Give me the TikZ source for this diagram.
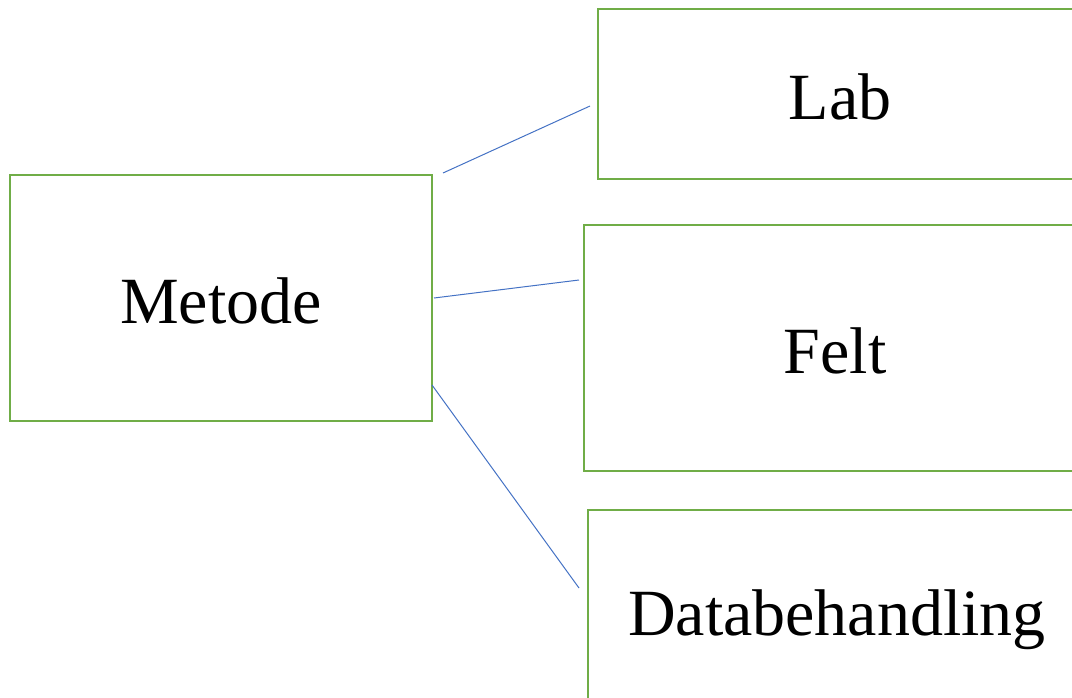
\documentclass[tikz,border=0pt]{standalone}
\usepackage{fontspec}
\setmainfont{Liberation Serif}
\definecolor{boxgreen}{RGB}{112,173,71}
\definecolor{linkblue}{RGB}{68,114,196}
\begin{document}
\begin{tikzpicture}[x=1pt,y=-1pt,
  box/.style={draw=boxgreen,line width=2pt,rectangle,inner sep=0pt,
    text height=51pt,text depth=0pt,
    font=\fontsize{66}{70}\selectfont},
  link/.style={draw=linkblue,line width=1pt}]
\useasboundingbox (0,0) rectangle (1072,697);
\clip (0,0) rectangle (1072,697);
\node[box,minimum width=422pt,minimum height=246pt] (metode) at (221,298) {Metode};
\node[box,minimum width=484pt,minimum height=170pt] (lab) at (840,94) {Lab};
\node[box,minimum width=502pt,minimum height=246pt] (felt) at (835,348) {Felt};
\node[box,minimum width=498pt,minimum height=200pt] (data) at (837,610) {Databehandling};
\coordinate (a1) at (443,173);
\coordinate (a2) at (590,106);
\coordinate (b1) at (434,298);
\coordinate (b2) at (579,280);
\coordinate (c1) at (432,385);
\coordinate (c2) at (579,588);
\draw[link] (a1) -- (a2);
\draw[link] (b1) -- (b2);
\draw[link] (c1) -- (c2);
\end{tikzpicture}
\end{document}
